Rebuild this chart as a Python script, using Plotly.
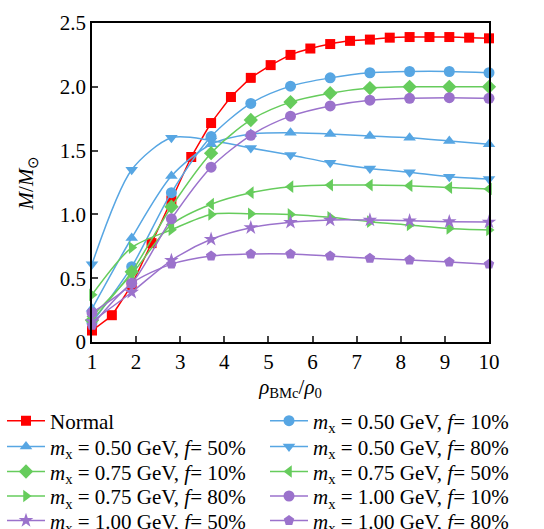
import plotly.graph_objects as go

x_normal = [1, 1.45, 1.9, 2.35, 2.8, 3.25, 3.7, 4.15, 4.6, 5.05, 5.5, 5.95, 6.4, 6.85,
            7.3, 7.75, 8.2, 8.65, 9.1, 9.55, 10]
y_normal = [0.09, 0.21, 0.45, 0.775, 1.11, 1.45, 1.716, 1.92, 2.07, 2.17, 2.25, 2.30,
            2.335, 2.36, 2.37, 2.385, 2.39, 2.39, 2.39, 2.385, 2.38]

x_dm = [1, 1.9, 2.8, 3.7, 4.6, 5.5, 6.4, 7.3, 8.2, 9.1, 10]
y_050_10 = [0.15, 0.59, 1.17, 1.61, 1.87, 2.005, 2.07, 2.11, 2.12, 2.12, 2.11]
y_050_50 = [0.26, 0.815, 1.30, 1.55, 1.63, 1.64, 1.63, 1.615, 1.60, 1.575, 1.55]
y_050_80 = [0.61, 1.35, 1.60, 1.58, 1.52, 1.465, 1.405, 1.36, 1.33, 1.295, 1.277]
y_075_10 = [0.17, 0.55, 1.06, 1.48, 1.74, 1.88, 1.95, 1.99, 2.0, 2.0, 2.0]
y_075_50 = [0.20, 0.53, 0.92, 1.08, 1.17, 1.217, 1.23, 1.23, 1.225, 1.21, 1.20]
y_075_80 = [0.37, 0.74, 0.88, 1.0, 1.005, 1.0, 0.977, 0.943, 0.917, 0.89, 0.878]
y_100_10 = [0.23, 0.46, 0.965, 1.37, 1.62, 1.77, 1.85, 1.895, 1.91, 1.915, 1.91]
y_100_50 = [0.16, 0.39, 0.64, 0.805, 0.896, 0.938, 0.956, 0.956, 0.95, 0.943, 0.94]
y_100_80 = [0.13, 0.46, 0.61, 0.674, 0.69, 0.69, 0.674, 0.656, 0.643, 0.627, 0.61]

x_ticks = [1, 2, 3, 4, 5, 6, 7, 8, 9, 10]
y_ticks = [0, 0.5, 1.0, 1.5, 2.0, 2.5]
y_ticktext = ["0", "0.5", "1.0", "1.5", "2.0", "2.5"]

RED = "#FF0000"
BLUE = "#57A6E3"
GREEN = "#66CC5C"
PURPLE = "#9B72CC"


def lab(m, f):
    return f"<i>m</i><sub>x</sub> = {m} GeV, <i>f</i>= {f}%"


series = [
    ("Normal", x_normal, y_normal, RED, "square"),
    (lab("0.50", 10), x_dm, y_050_10, BLUE, "circle"),
    (lab("0.50", 50), x_dm, y_050_50, BLUE, "triangle-up"),
    (lab("0.50", 80), x_dm, y_050_80, BLUE, "triangle-down"),
    (lab("0.75", 10), x_dm, y_075_10, GREEN, "diamond"),
    (lab("0.75", 50), x_dm, y_075_50, GREEN, "triangle-left"),
    (lab("0.75", 80), x_dm, y_075_80, GREEN, "triangle-right"),
    (lab("1.00", 10), x_dm, y_100_10, PURPLE, "circle"),
    (lab("1.00", 50), x_dm, y_100_50, PURPLE, "star"),
    (lab("1.00", 80), x_dm, y_100_80, PURPLE, "pentagon"),
]

# page / plot-area geometry (pixels)
H = 545
W = 544
ML, MR, MT = 92, 55, 23
PLOT_BOTTOM = 342
PW = W - ML - MR
PH = PLOT_BOTTOM - MT

FONT = "Liberation Serif, Times New Roman, serif"
LFONT = dict(family=FONT, size=21, color="black")
col_x = [2, 265]
row_center = [420.7, 446.5, 471.5, 496.0, 520.5]
ITEM_H = 21 * 1.3 + 3

fig = go.Figure()
legends = {}
for i, (name, xs, ys, col, sym) in enumerate(series):
    lid = "legend" if i == 0 else f"legend{i + 1}"
    fig.add_trace(go.Scatter(
        x=xs, y=ys, name=name, mode="lines+markers", legend=lid,
        line=dict(color=col, width=1.5, shape="spline",
                  smoothing=0.8 if name != "Normal" else 0.3),
        marker=dict(color=col, symbol=sym, size=10 if sym == "square" else 11,
                    line=dict(width=0)),
        cliponaxis=False,
    ))
    top = row_center[i // 2] - 5 - ITEM_H / 2
    legends[lid] = dict(
        orientation="h", xanchor="left", xref="paper",
        yanchor="top", yref="paper",
        x=(col_x[i % 2] - ML) / PW, y=(PLOT_BOTTOM - top) / PH,
        font=LFONT, itemwidth=38, bgcolor="rgba(0,0,0,0)",
    )

fig.update_layout(
    width=W, height=H,
    margin=dict(l=ML, r=MR, t=MT, b=H - PLOT_BOTTOM, autoexpand=False),
    paper_bgcolor="white", plot_bgcolor="white",
    font=dict(family=FONT, size=21, color="black"),
    showlegend=True,
    **legends,
)
fig.update_xaxes(
    range=[1, 10], tickvals=x_ticks, ticks="inside", ticklen=6, tickwidth=1.5,
    showline=True, linecolor="black", linewidth=1.5, mirror=True,
    showgrid=False, zeroline=False,
    tickfont=dict(size=21),
    title=dict(text="<i>ρ</i><sub>BMc</sub>/<i>ρ</i><sub>0</sub>", font=dict(size=21), standoff=6),
)
fig.update_yaxes(
    range=[0, 2.5], tickvals=y_ticks, ticktext=y_ticktext, ticks="inside", ticklen=6,
    tickwidth=1.5, showline=True, linecolor="black", linewidth=1.5, mirror=True,
    showgrid=False, zeroline=False,
    tickfont=dict(size=21),
    title=dict(text="<i>M</i>/<i>M</i><sub>⊙</sub>", font=dict(size=21), standoff=20),
)

fig.write_html(
    "out.html",
    post_script="document.documentElement.style.overflow='hidden';"
                "document.body.style.overflow='hidden';",
)
